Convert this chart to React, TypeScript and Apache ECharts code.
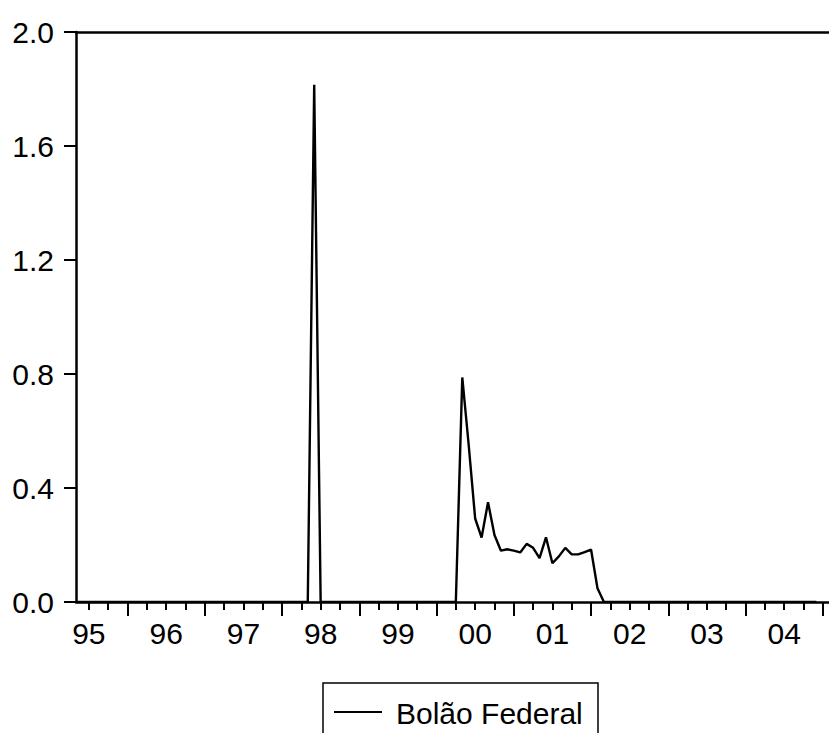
import React, { useEffect, useRef } from "react";
import * as echarts from "echarts";

// Monthly series, one row per year (1995 starts in May)
const firstMonth = 5;
const values1995 = [0, 0, 0, 0, 0, 0, 0, 0];
const values1996 = [0, 0, 0, 0, 0, 0, 0, 0, 0, 0, 0, 0];
const values1997 = [0, 0, 0, 0, 0, 0, 0, 0, 0, 0, 0, 0];
const values1998 = [0, 0, 0, 0, 0, 1.815, 0, 0, 0, 0, 0, 0];
const values1999 = [0, 0, 0, 0, 0, 0, 0, 0, 0, 0, 0, 0];
const values2000 = [0, 0, 0, 0, 0.788, 0.55, 0.293, 0.226, 0.35, 0.235, 0.18, 0.185];
const values2001 = [0.18, 0.174, 0.204, 0.19, 0.154, 0.227, 0.136, 0.16, 0.19, 0.167, 0.167, 0.175];
const values2002 = [0.184, 0.048, 0, 0, 0, 0, 0, 0, 0, 0, 0, 0];
const values2003 = [0, 0, 0, 0, 0, 0, 0, 0, 0, 0, 0, 0];
const values2004 = [0, 0, 0, 0, 0, 0, 0, 0, 0, 0, 0, 0];

const seriesName = "Bolão Federal";
const yearLabels = ["95", "96", "97", "98", "99", "00", "01", "02", "03", "04"];
const yTicks = [0, 0.4, 0.8, 1.2, 1.6, 2.0];

// x is measured in months since January 1995
const xMin = firstMonth - 1;
const xMax = 124;
const monthPx = 6.438;

const allValues = [
  ...values1995, ...values1996, ...values1997, ...values1998, ...values1999,
  ...values2000, ...values2001, ...values2002, ...values2003, ...values2004,
];
const seriesData = allValues.map((v, i) => [xMin + i, v]);

const yearStarts = yearLabels.map((_, i) => i * 12).concat([yearLabels.length * 12]).filter((m) => m > xMin);
const quarterTicks: number[] = [];
for (let y = 0; y <= yearLabels.length; y++) {
  [3, 6, 9].forEach((q) => {
    const m = y * 12 + q;
    if (m > xMin && m < xMax) quarterTicks.push(m);
  });
}
const labelPositions = yearLabels.map((_, i) => i * 12 + 6);

const FONT = "'Liberation Sans', Arial, sans-serif";

export default function App() {
  const ref = useRef<HTMLDivElement>(null);

  useEffect(() => {
    if (!ref.current) return;
    const chart = echarts.init(ref.current, null, { renderer: "svg" });
    const gridLeft = 76;
    const gridTop = 32;
    const gridHeight = 570;
    const gridWidth = (xMax - xMin) * monthPx;

    chart.setOption({
      animation: false,
      backgroundColor: "#ffffff",
      grid: { left: gridLeft, top: gridTop, height: gridHeight, width: gridWidth, containLabel: false },
      xAxis: [
        {
          type: "value",
          position: "bottom",
          min: xMin,
          max: xMax,
          axisLine: { show: true, onZero: false, lineStyle: { color: "#000", width: 2.5 } },
          axisTick: { show: true, inside: false, length: 14, customValues: yearStarts, lineStyle: { color: "#000", width: 2 } },
          axisLabel: {
            show: true,
            customValues: labelPositions,
            formatter: (v: number) => yearLabels[Math.round((v - 6) / 12)] ?? "",
            color: "#000",
            fontFamily: FONT,
            fontSize: 30,
            margin: 16,
          },
          splitLine: { show: false },
        },
        {
          type: "value",
          position: "bottom",
          min: xMin,
          max: xMax,
          axisLine: { show: false },
          axisTick: { show: true, inside: false, length: 8, customValues: quarterTicks, lineStyle: { color: "#000", width: 2 } },
          axisLabel: { show: false },
          splitLine: { show: false },
        },
        {
          type: "value",
          position: "top",
          min: xMin,
          max: xMax,
          axisLine: { show: true, onZero: false, lineStyle: { color: "#000", width: 2.5 } },
          axisTick: { show: false },
          axisLabel: { show: false },
          splitLine: { show: false },
        },
      ],
      yAxis: {
        type: "value",
        min: 0,
        max: 2,
        interval: 0.4,
        axisLine: { show: true, onZero: false, lineStyle: { color: "#000", width: 2.5 } },
        axisTick: { show: true, inside: false, length: 12, lineStyle: { color: "#000", width: 2 } },
        axisLabel: {
          color: "#000",
          fontFamily: FONT,
          fontSize: 30,
          margin: 22,
          customValues: yTicks,
          formatter: (v: number) => v.toFixed(1),
        },
        splitLine: { show: false },
      },
      series: [
        {
          name: seriesName,
          type: "line",
          xAxisIndex: 0,
          data: seriesData,
          showSymbol: false,
          symbol: "none",
          lineStyle: { color: "#000", width: 2.4 },
          clip: true,
        },
      ],
      graphic: [
        {
          type: "rect",
          shape: { x: 323, y: 683, width: 275, height: 80 },
          style: { fill: "#fff", stroke: "#000", lineWidth: 1.5 },
          z: 10,
        },
        {
          type: "line",
          shape: { x1: 334, y1: 712, x2: 382, y2: 712 },
          style: { stroke: "#000", lineWidth: 2 },
          z: 11,
        },
        {
          type: "text",
          x: 396,
          y: 713,
          style: { text: seriesName, fill: "#000", font: `30px ${FONT}`, verticalAlign: "middle", align: "left" },
          z: 11,
        },
      ],
    });
    return () => chart.dispose();
  }, []);

  return (
    <div style={{ position: "fixed", left: 0, top: 0, width: 829, height: 733, overflow: "hidden", background: "#fff" }}>
      <div ref={ref} style={{ width: 870, height: 733 }} />
    </div>
  );
}
